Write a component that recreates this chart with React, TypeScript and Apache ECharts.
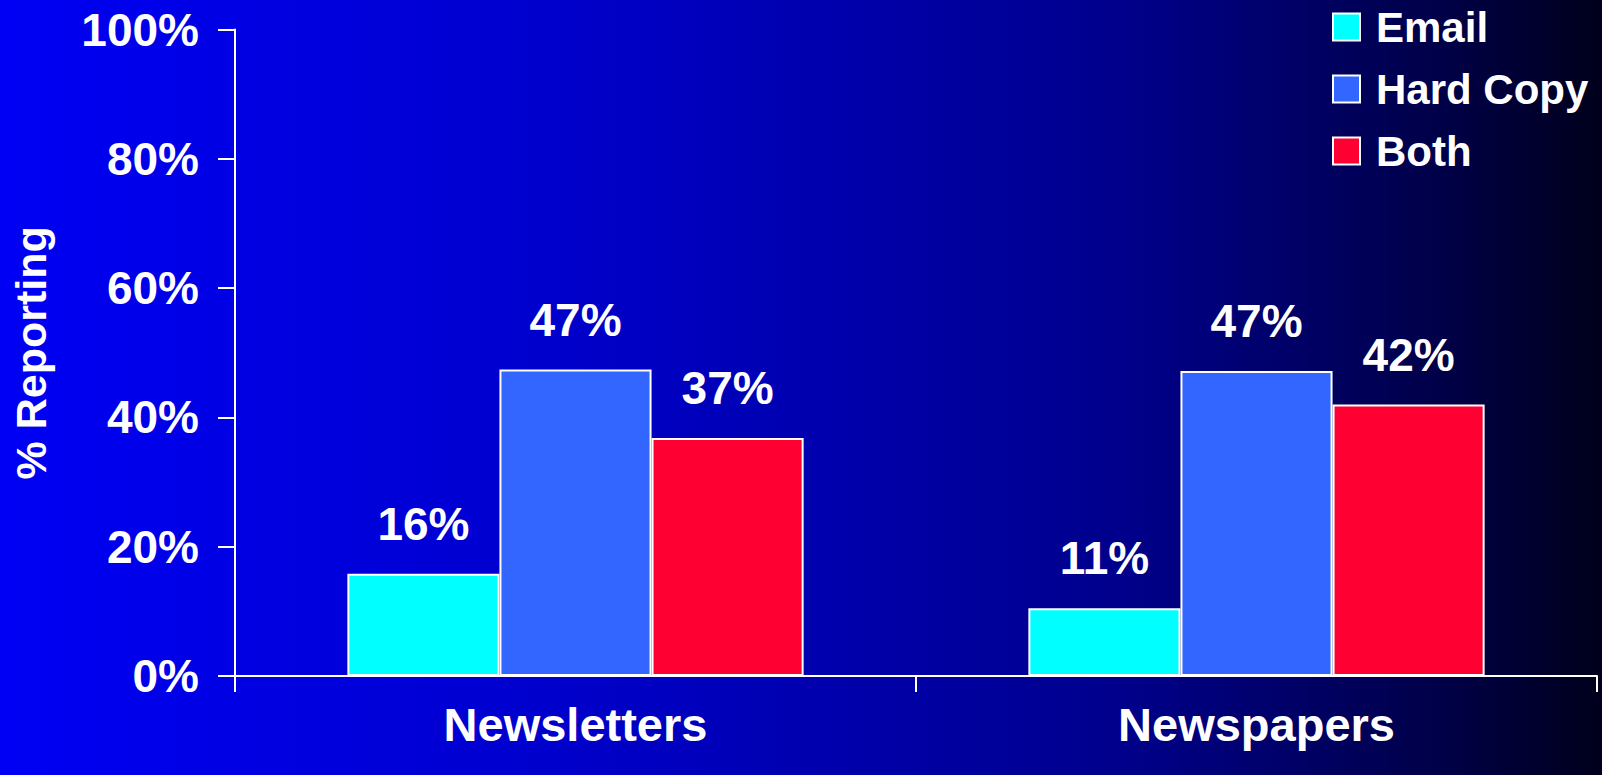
import React, { useEffect, useRef } from "react";
import * as echarts from "echarts";

const categories = ["Newsletters", "Newspapers"];
const seriesNames = ["Email", "Hard Copy", "Both"];
const emailValues = [15.8, 10.5];
const hardCopyValues = [47.4, 47.2];
const bothValues = [36.8, 42.0];
const seriesColors = ["#00FFFF", "#3366FF", "#FF0033"];
const yTicks = [0, 20, 40, 60, 80, 100];

const FONT = "'Liberation Sans', Arial, Helvetica, sans-serif";

export default function App() {
  const ref = useRef<HTMLDivElement>(null);
  useEffect(() => {
    if (!ref.current) return;
    const chart = echarts.init(ref.current, null, { renderer: "svg" });
    const values = [emailValues, hardCopyValues, bothValues];
    const option = {
      animation: false,
      backgroundColor: "transparent",
      textStyle: { fontFamily: FONT },
      grid: {
        left: 235,
        right: 5,
        top: 29.6,
        bottom: 99,
        containLabel: false,
        outerBoundsMode: "none",
      },
      legend: {
        orient: "vertical",
        left: 1327,
        top: 1,
        itemWidth: 27,
        itemHeight: 27,
        itemGap: 20,
        icon: "rect",
        data: seriesNames,
        itemStyle: { borderColor: "#FFFFFF", borderWidth: 2 },
        textStyle: {
          color: "#FFFFFF",
          fontSize: 42,
          fontWeight: "bold",
          fontFamily: FONT,
          padding: [0, 0, 0, 11],
        },
      },
      xAxis: {
        type: "category",
        data: categories,
        boundaryGap: true,
        axisLine: { lineStyle: { color: "#FFFFFF", width: 2 } },
        axisTick: { show: true, length: 16, lineStyle: { color: "#FFFFFF", width: 2 } },
        axisLabel: {
          color: "#FFFFFF",
          fontSize: 47,
          fontWeight: "bold",
          fontFamily: FONT,
          margin: 25,
        },
      },
      yAxis: {
        type: "value",
        min: yTicks[0],
        max: yTicks[yTicks.length - 1],
        interval: 20,
        name: "% Reporting",
        nameLocation: "middle",
        nameRotate: 90,
        nameGap: 183,
        nameTextStyle: { color: "#FFFFFF", fontSize: 43, fontWeight: "bold", fontFamily: FONT },
        splitLine: { show: false },
        axisLine: { show: true, lineStyle: { color: "#FFFFFF", width: 2 } },
        axisTick: { show: true, length: 17, lineStyle: { color: "#FFFFFF", width: 2 } },
        axisLabel: {
          color: "#FFFFFF",
          fontSize: 46,
          fontWeight: "bold",
          fontFamily: FONT,
          margin: 36,
          formatter: (v: number) => v + "%",
        },
      },
      series: seriesNames.map((name, i) => ({
        name,
        type: "bar",
        data: values[i],
        barGap: "0%",
        barCategoryGap: "33%",
        itemStyle: { color: seriesColors[i], borderColor: "#FFFFFF", borderWidth: 2 },
        label: {
          show: true,
          position: "top",
          distance: 27,
          color: "#FFFFFF",
          fontSize: 46,
          fontWeight: "bold",
          fontFamily: FONT,
          formatter: (p: any) => Math.round(p.value) + "%",
        },
      })),
    };
    chart.setOption(option as any);
    return () => chart.dispose();
  }, []);
  return (
    <div
      ref={ref}
      style={{
        position: "absolute",
        left: 0,
        top: 0,
        width: 1602,
        height: 775,
        background: "linear-gradient(to right, #0000F5 0%, #0000CC 35%, #00008C 70%, #000048 90%, #00001C 100%)",
      }}
    />
  );
}
